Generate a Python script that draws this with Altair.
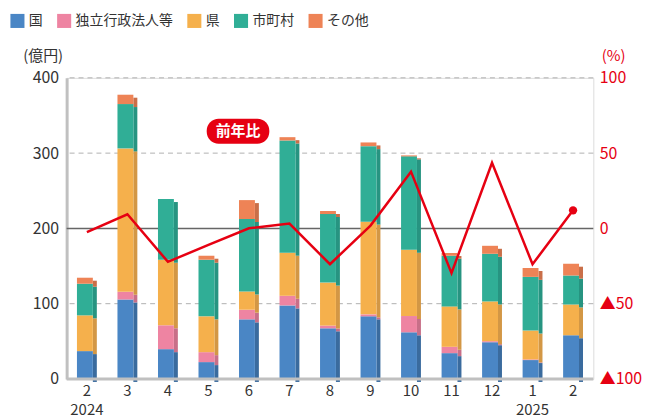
import altair as alt
import pandas as pd

# ---- data ----
months = ["2", "3", "4", "5", "6", "7", "8", "9", "10", "11", "12", "1", "2"]
years = ["2024", "", "", "", "", "", "", "", "", "", "", "2025", ""]
series = ["国", "独立行政法人等", "県", "市町村", "その他"]
kuni = [37, 105.6, 39.6, 22.4, 79.2, 97.7, 67.3, 83.2, 62, 34.3, 48.8, 25.1, 58.1]
dokuritsu = [0, 10.2, 31.7, 13.2, 12.8, 12.8, 3.6, 2.6, 21.6, 8.4, 1.4, 0.9, 0]
ken = [47.5, 190.5, 87.1, 47.6, 24.2, 57.2, 57.1, 123.2, 88, 53.7, 52.8, 38.3, 40.9]
shichoson = [42, 58.9, 80.6, 75.2, 96.3, 149.1, 91.1, 100.3, 124.1, 67.3, 63.3, 71.3, 38.3]
sonota = [8, 12.4, 0, 5.3, 25.1, 4.4, 4, 4.9, 1.3, 3.6, 10.6, 11.8, 15.8]
yoy = [-2.5, 9.4, -22.2, -11, 0.1, 3.2, -23.8, 1.9, 37.7, -29.7, 43.6, -23.8, 12]

colors = ["#4a86c5", "#ee84a2", "#f5b04c", "#30ae96", "#ee8356"]
side_colors = ["#3a6b9e", "#c86f88", "#d39745", "#279481", "#c96f49"]

keys = [f"{m}|{y}" for m, y in zip(months, years)]
vals = [kuni, dokuritsu, ken, shichoson, sonota]
rows = []
for i, k in enumerate(keys):
    for j, s in enumerate(series):
        rows.append({"key": k, "series": s, "side": s + " ", "idx": j, "value": vals[j][i]})
df = pd.DataFrame(rows)
line_df = pd.DataFrame({"key": keys, "yoy": yoy})
last_df = line_df.tail(1)
label_df = pd.DataFrame({"key": [keys[4]], "y1": [56.3], "y2": [72.8], "ym": [64.5], "text": ["前年比"]})
grid_df = pd.DataFrame({"v": [100, 300, 400]})
zero_df = pd.DataFrame({"v": [200]})
base_df = pd.DataFrame({"v": [0]})

FONT = "Noto Sans CJK JP"
RED = "#e60012"

xenc = alt.X("key:N", sort=keys, scale=alt.Scale(paddingInner=0.5, paddingOuter=0.25),
             axis=alt.Axis(title=None, labelExpr="split(datum.label, '|')", labelAngle=0,
                           labelFontSize=15, labelColor="#333", labelPadding=5,
                           labelLineHeight=19, ticks=False, domain=False, labelFont=FONT))

yscale = alt.Scale(domain=[0, 400], nice=False)
yaxis = alt.Axis(values=[0, 100, 200, 300, 400], grid=False, ticks=False,
                 domainColor="#c0c0c0", domainWidth=3, labelFontSize=16,
                 labelColor="#333", labelPadding=8, labelFont=FONT,
                 title="(億円)", titleAngle=0, titleAlign="right",
                 titleX=-4, titleY=-14, titleBaseline="bottom",
                 titleFontSize=15, titleFontWeight="normal", titleColor="#333",
                 titleFont=FONT)

grid = alt.Chart(grid_df).mark_rule(color="#b0b0b0", strokeDash=[5, 4], strokeWidth=1).encode(
    y=alt.Y("v:Q", scale=yscale, axis=yaxis, title="(億円)")
)
zero = alt.Chart(zero_df).mark_rule(color="#666", strokeWidth=1.5).encode(
    y=alt.Y("v:Q", scale=yscale, axis=yaxis, title="(億円)")
)
base = alt.Chart(base_df).mark_rule(color="#c0c0c0", strokeWidth=3).encode(
    y=alt.Y("v:Q", scale=yscale, axis=yaxis, title="(億円)")
)

side = alt.Chart(df).mark_bar(size=4, xOffset=8, yOffset=3).encode(
    x=xenc,
    y=alt.Y("value:Q", stack="zero", scale=yscale, axis=yaxis, title="(億円)"),
    color=alt.Color("side:N", scale=alt.Scale(domain=[s + " " for s in series], range=side_colors),
                    legend=None),
    order=alt.Order("idx:Q", sort="ascending"),
)

front = alt.Chart(df).mark_bar(size=16, xOffset=-2).encode(
    x=xenc,
    y=alt.Y("value:Q", stack="zero", scale=yscale, axis=yaxis, title="(億円)"),
    color=alt.Color("series:N", scale=alt.Scale(domain=series, range=colors),
                    legend=alt.Legend(title=None, orient="none", direction="horizontal",
                                      legendX=-57, legendY=-65, symbolType="square",
                                      symbolSize=200, symbolStrokeWidth=0, labelFontSize=14,
                                      labelFont=FONT, labelColor="#333", columnPadding=14,
                                      symbolOpacity=1, labelOffset=4)),
    order=alt.Order("idx:Q", sort="ascending"),
)

rscale = alt.Scale(domain=[-100, 100], nice=False)
raxis = alt.Axis(orient="right", values=[-100, -50, 0, 50, 100], grid=False,
                 ticks=False, domain=False, labelFontSize=16, labelColor=RED,
                 labelPadding=6, labelFont=FONT,
                 labelExpr="datum.value < 0 ? '▲' + abs(datum.value) : datum.value",
                 title="(%)", titleAngle=0, titleAlign="left", titleX=8, titleY=-14,
                 titleBaseline="bottom", titleFontSize=15, titleFontWeight="normal",
                 titleColor=RED, titleFont=FONT)
line = alt.Chart(line_df).mark_line(color=RED, strokeWidth=2.5).encode(
    x=alt.X("key:N", sort=keys),
    y=alt.Y("yoy:Q", scale=rscale, axis=raxis, title="(%)"),
)
dot = alt.Chart(last_df).mark_circle(color=RED, size=70, opacity=1).encode(
    x=alt.X("key:N", sort=keys), y=alt.Y("yoy:Q", scale=rscale, axis=raxis, title="(%)")
)
lab_bg = alt.Chart(label_df).mark_bar(color=RED, size=63, xOffset=-11, cornerRadius=12).encode(
    x=alt.X("key:N", sort=keys), y=alt.Y("y1:Q", scale=rscale, axis=raxis, title="(%)"), y2="y2:Q"
)
lab_txt = alt.Chart(label_df).mark_text(color="white", fontSize=15, fontWeight="bold",
                                        font=FONT, dx=-11).encode(
    x=alt.X("key:N", sort=keys), y=alt.Y("ym:Q", scale=rscale, axis=raxis, title="(%)"),
    text="text:N"
)

left = alt.layer(grid, zero, side, front, base).resolve_scale(color="independent")
right = alt.layer(line, dot, lab_bg, lab_txt)

chart = alt.layer(left, right).resolve_scale(y="independent", x="shared", color="independent").properties(
    width=530, height=303,
    autosize=alt.AutoSizeParams(type="none"),
    padding={"left": 59, "top": 69, "right": 50, "bottom": 40},
).configure_view(stroke=None).configure(font=FONT)

chart.save("out.html", embed_options={"renderer": "svg", "actions": False})
